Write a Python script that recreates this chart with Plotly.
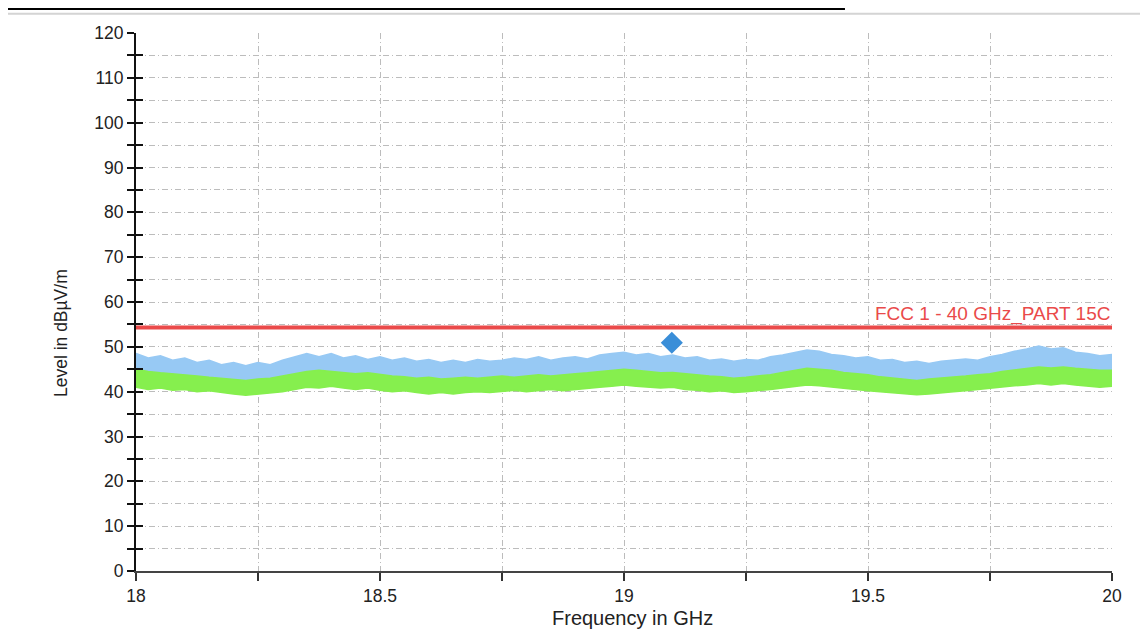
import plotly.graph_objects as go

# frequency grid of the read-off envelopes (GHz)
freq = [18.0, 18.025, 18.05, 18.075, 18.1, 18.125, 18.15, 18.175, 18.2, 18.225,
        18.25, 18.275, 18.3, 18.325, 18.35, 18.375, 18.4, 18.425, 18.45, 18.475,
        18.5, 18.525, 18.55, 18.575, 18.6, 18.625, 18.65, 18.675, 18.7, 18.725,
        18.75, 18.775, 18.8, 18.825, 18.85, 18.875, 18.9, 18.925, 18.95, 18.975,
        19.0, 19.025, 19.05, 19.075, 19.1, 19.125, 19.15, 19.175, 19.2, 19.225,
        19.25, 19.275, 19.3, 19.325, 19.35, 19.375, 19.4, 19.425, 19.45, 19.475,
        19.5, 19.525, 19.55, 19.575, 19.6, 19.625, 19.65, 19.675, 19.7, 19.725,
        19.75, 19.775, 19.8, 19.825, 19.85, 19.875, 19.9, 19.925, 19.95, 19.975,
        20.0]

# peak detector trace, upper envelope (dBuV/m)
peak_hi = [48.5, 47.5, 48.0, 47.0, 47.5, 46.5, 47.0, 46.0, 46.5, 45.8,
           46.5, 46.0, 47.0, 47.8, 48.5, 47.8, 48.5, 47.5, 48.0, 47.2,
           47.8, 47.0, 47.5, 46.8, 47.2, 46.5, 47.0, 46.5, 47.2, 46.8,
           47.0, 47.5, 47.2, 47.8, 47.0, 47.5, 47.8, 47.3, 48.2, 48.5,
           48.8, 48.2, 48.5, 47.8, 48.2, 47.5, 47.8, 47.0, 47.3, 46.8,
           47.2, 47.0, 47.8, 48.2, 48.8, 49.3, 49.0, 48.3, 48.0, 47.5,
           47.8, 47.0, 47.2, 46.5, 46.8, 46.3, 46.8, 47.0, 47.3, 47.0,
           47.8, 48.3, 49.0, 49.5, 50.2, 49.5, 49.8, 48.8, 48.5, 48.0,
           48.3]

# average detector trace, upper and lower envelope (dBuV/m)
avg_hi = [45.0, 44.5, 44.2, 44.0, 43.8, 43.5, 43.2, 43.0, 42.8, 42.5,
          42.8, 43.0, 43.5, 44.0, 44.5, 44.8, 44.5, 44.3, 44.0, 44.2,
          43.8, 43.5, 43.3, 43.0, 43.2, 42.8, 43.0, 43.2, 43.0, 43.3,
          43.5, 43.2, 43.5, 43.8, 43.5, 43.8, 44.0, 44.2, 44.5, 44.8,
          45.0, 44.8, 44.5, 44.2, 44.3, 44.0, 43.8, 43.5, 43.3, 43.0,
          43.2, 43.5, 43.8, 44.3, 44.8, 45.2, 45.0, 44.8, 44.3, 44.0,
          43.8, 43.3, 43.0, 42.8, 42.5, 42.8, 43.0, 43.2, 43.5, 43.8,
          44.0, 44.5, 44.8, 45.2, 45.5, 45.3, 45.5, 45.2, 45.0, 44.8,
          44.8]
avg_lo = [41.0, 40.5, 40.8, 40.3, 40.5, 40.0, 40.2, 39.8, 39.5, 39.2,
          39.5, 39.8, 40.0, 40.5, 41.0, 40.8, 41.2, 40.8, 40.5, 40.8,
          40.3, 40.0, 40.2, 39.8, 39.5, 39.8, 39.5, 39.8, 40.0, 39.8,
          40.0, 40.3, 40.0, 40.3, 40.5, 40.2, 40.5, 40.8, 41.0, 41.2,
          41.5, 41.2, 41.0, 40.8, 41.0, 40.5, 40.3, 40.0, 40.2, 39.8,
          40.0, 40.2, 40.5, 40.8, 41.2, 41.5, 41.3, 41.0, 40.8, 40.5,
          40.2, 40.0, 39.8, 39.5, 39.3, 39.5, 39.8, 40.0, 40.2, 40.5,
          40.8, 41.0, 41.3, 41.5, 41.8, 41.5, 41.8, 41.5, 41.3, 41.0,
          41.2]

# limit line and final measurement point
limit_freq = [18.0, 20.0]
limit_level = [54.3, 54.3]
limit_name = "FCC 1 - 40 GHz_PART 15C"
final_freq = [19.098]
final_level = [50.9]

# axis ticks
x_ticks = [18, 18.5, 19, 19.5, 20]
x_labels = ["18", "18.5", "19", "19.5", "20"]

BLUE = "#97c9f4"
GREEN = "#86ef4e"
RED = "#ea4a4a"
GRID = "#bcbcbc"
FONT = "Liberation Sans, Arial, sans-serif"

fig = go.Figure()

# peak band (drawn first, average band sits over its lower part)
fig.add_trace(go.Scatter(x=freq, y=avg_lo, mode="lines", line=dict(width=0, color=BLUE),
                         showlegend=False, hoverinfo="skip"))
fig.add_trace(go.Scatter(x=freq, y=peak_hi, mode="lines", fill="tonexty", fillcolor=BLUE,
                         line=dict(width=1.5, color=BLUE), showlegend=False))

# average band
fig.add_trace(go.Scatter(x=freq, y=avg_lo, mode="lines", line=dict(width=1.5, color=GREEN),
                         showlegend=False, hoverinfo="skip"))
fig.add_trace(go.Scatter(x=freq, y=avg_hi, mode="lines", fill="tonexty", fillcolor=GREEN,
                         line=dict(width=1.5, color=GREEN), showlegend=False))

# limit
fig.add_trace(go.Scatter(x=limit_freq, y=limit_level, mode="lines",
                         line=dict(color=RED, width=4), showlegend=False))

# final result marker
fig.add_trace(go.Scatter(x=final_freq, y=final_level, mode="markers",
                         marker=dict(symbol="diamond", size=17, color="#3a8ed8"),
                         showlegend=False))

fig.add_annotation(x=limit_freq[-1], y=limit_level[-1], text=limit_name,
                   xanchor="right", yanchor="bottom", showarrow=False, yshift=1,
                   font=dict(family=FONT, size=19, color=RED))

# axis titles placed as in the report
fig.add_annotation(xref="paper", yref="paper", x=-0.077, y=0.442, text="Level in dBµV/m",
                   textangle=-90, showarrow=False, xanchor="center", yanchor="middle",
                   font=dict(family=FONT, size=17.5, color="#222222"))
fig.add_annotation(xref="paper", yref="paper", x=0.509, y=-0.087, text="Frequency in GHz",
                   showarrow=False, xanchor="center", yanchor="middle",
                   font=dict(family=FONT, size=20, color="#222222"))

grid_dash = "6px,3px,1px,3px"

# the page body adds an 8px offset, so the figure is 8px smaller than the window
fig.update_layout(
    width=1140, height=622,
    margin=dict(l=128, r=36, t=25, b=59),
    paper_bgcolor="white", plot_bgcolor="white",
    font=dict(family=FONT, color="#222222"),
    xaxis=dict(
        range=[18, 20], tickvals=x_ticks, ticktext=x_labels, automargin=False,
        showline=True, linecolor="#444444", linewidth=2,
        ticks="outside", ticklen=8, tickwidth=2, tickcolor="#333333",
        tickfont=dict(size=17.5), showgrid=True, gridcolor=GRID, griddash=grid_dash,
        gridwidth=1, zeroline=False,
        minor=dict(dtick=0.25, tick0=18, ticks="outside", ticklen=8, tickwidth=2,
                   tickcolor="#333333", showgrid=True, gridcolor=GRID, griddash=grid_dash),
    ),
    yaxis=dict(
        range=[0, 120], dtick=10, showline=True, linecolor="#111111", linewidth=2,
        automargin=False,
        ticks="outside", ticklen=7, tickwidth=2, tickcolor="#111111",
        tickfont=dict(size=17.5), showgrid=True, gridcolor=GRID, griddash=grid_dash,
        zeroline=False,
        minor=dict(dtick=5, ticks="outside", ticklen=7, tickwidth=2, tickcolor="#111111",
                   showgrid=True, gridcolor=GRID, griddash=grid_dash),
    ),
    yaxis2=dict(
        range=[0, 120], overlaying="y", side="left", dtick=10, showticklabels=False,
        ticks="inside", ticklen=7, tickwidth=2, tickcolor="#111111", showgrid=False,
        zeroline=False, showline=False, automargin=False,
        minor=dict(dtick=5, ticks="inside", ticklen=7, tickwidth=2, tickcolor="#111111"),
    ),
    shapes=[
        # outer frame of the report screenshot
        dict(type="line", xref="paper", yref="paper", x0=-0.14, x1=0.7264,
             y0=1.0445, y1=1.0445, line=dict(color="black", width=2)),
        dict(type="rect", xref="paper", yref="paper", x0=-0.1322, x1=1.0297,
             y0=-0.2, y1=1.036, line=dict(color="#d4d4d4", width=2)),
    ],
)

# dummy trace so the overlay axis is drawn
fig.add_trace(go.Scatter(x=[18], y=[0], yaxis="y2", mode="markers",
                         marker=dict(opacity=0), showlegend=False, hoverinfo="skip"))

fig.write_html("out.html")
